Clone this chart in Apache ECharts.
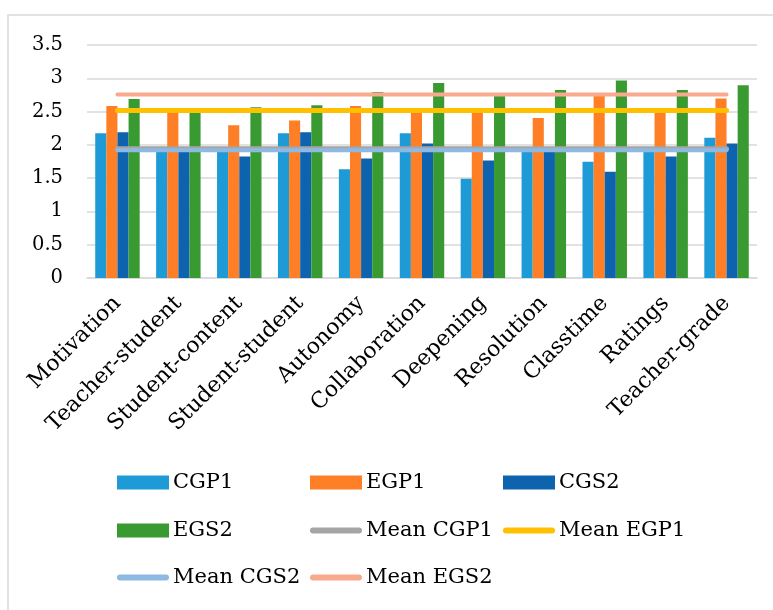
<!DOCTYPE html>
<html>
<head>
<meta charset="utf-8">
<script src="https://cdn.jsdelivr.net/npm/echarts@6/dist/echarts.min.js"></script>
<style>html,body{margin:0;padding:0;background:#fff}#c{width:773px;height:610px}</style>
</head>
<body>
<div id="c"></div>
<script>
const categories = ['Motivation','Teacher-student','Student-content','Student-student','Autonomy','Collaboration','Deepening','Resolution','Classtime','Ratings','Teacher-grade'];
const CGP1 = [2.175, 1.94, 1.93, 2.175, 1.635, 2.175, 1.49, 1.93, 1.745, 1.93, 2.105];
const EGP1 = [2.585, 2.5, 2.295, 2.365, 2.585, 2.5, 2.5, 2.405, 2.735, 2.5, 2.695];
const CGS2 = [2.19, 1.93, 1.825, 2.19, 1.795, 2.02, 1.765, 1.93, 1.595, 1.825, 2.02];
const EGS2 = [2.69, 2.5, 2.565, 2.595, 2.795, 2.93, 2.735, 2.825, 2.965, 2.825, 2.895];
const meanCGP1 = [1.94, 1.94, 1.94, 1.94, 1.94, 1.94, 1.94, 1.94, 1.94, 1.94, 1.94];
const meanEGP1 = [2.515, 2.515, 2.515, 2.515, 2.515, 2.515, 2.515, 2.515, 2.515, 2.515, 2.515];
const meanCGS2 = [1.92, 1.92, 1.92, 1.92, 1.92, 1.92, 1.92, 1.92, 1.92, 1.92, 1.92];
const meanEGS2 = [2.755, 2.755, 2.755, 2.755, 2.755, 2.755, 2.755, 2.755, 2.755, 2.755, 2.755];
const yTicks = {min: 0, max: 3.5, interval: 0.5};

const FONT = 'DejaVu Serif';
const colors = {
  'CGP1': '#1E9BD7', 'EGP1': '#FF7F27', 'CGS2': '#0E63AF', 'EGS2': '#3A9A32',
  'Mean CGP1': '#A5A5A5', 'Mean EGP1': '#FFC000', 'Mean CGS2': '#8DB9E2', 'Mean EGS2': '#F9A98E'
};
const lineIcon = 'path://M3,0 L49,0 A3,3 0 0 1 49,6 L3,6 A3,3 0 0 1 3,0 Z';

function bar(name, data) {
  return {name, type: 'bar', data, barGap: '0%', barCategoryGap: '27%',
    itemStyle: {color: colors[name]}, z: 2};
}
function line(name, data, w) {
  return {name, type: 'line', data, symbol: 'none', z: 3,
    lineStyle: {color: colors[name], width: w, cap: 'round'},
    itemStyle: {color: colors[name]}};
}

const legendPos = [
  ['CGP1', 117, 472, 'rect'], ['EGP1', 310, 472, 'rect'], ['CGS2', 503, 472, 'rect'],
  ['EGS2', 117, 520, 'rect'], ['Mean CGP1', 310, 520, lineIcon], ['Mean EGP1', 503, 520, lineIcon],
  ['Mean CGS2', 117, 567, lineIcon], ['Mean EGS2', 310, 567, lineIcon]
];
const legends = legendPos.map(([n, x, y, icon]) => ({
  left: x, top: y, itemWidth: 52, itemHeight: icon === 'rect' ? 14 : 6, itemGap: 4,
  padding: 0, selectedMode: false,
  textStyle: {fontFamily: FONT, fontSize: 21, color: '#000', padding: [0, 0, 0, -1]},
  data: [{name: n, icon: icon}]
}));

const chart = echarts.init(document.getElementById('c'));
chart.setOption({
  animation: false,
  backgroundColor: '#fff',
  graphic: [{type: 'rect', shape: {x: 8, y: 15, width: 820, height: 700},
    style: {fill: 'none', stroke: '#d9d9d9', lineWidth: 1.5}, silent: true}],
  legend: legends,
  grid: {left: 87, right: 16, top: 45, bottom: 332, containLabel: false},
  xAxis: {type: 'category', data: categories,
    axisLine: {lineStyle: {color: '#d9d9d9', width: 1.5}},
    axisTick: {show: false},
    axisLabel: {rotate: 45, interval: 0, margin: 22, fontFamily: FONT, fontSize: 22, color: '#000'}},
  yAxis: {type: 'value', min: yTicks.min, max: yTicks.max, interval: yTicks.interval,
    axisLine: {show: false}, axisTick: {show: false},
    splitLine: {lineStyle: {color: '#d9d9d9', width: 1.5}},
    axisLabel: {margin: 24, fontFamily: FONT, fontSize: 19.5, color: '#000'}},
  series: [
    bar('CGP1', CGP1), bar('EGP1', EGP1), bar('CGS2', CGS2), bar('EGS2', EGS2),
    line('Mean CGP1', meanCGP1, 5), line('Mean EGP1', meanEGP1, 5),
    line('Mean CGS2', meanCGS2, 4), line('Mean EGS2', meanEGS2, 4)
  ]
});
</script>
</body>
</html>
